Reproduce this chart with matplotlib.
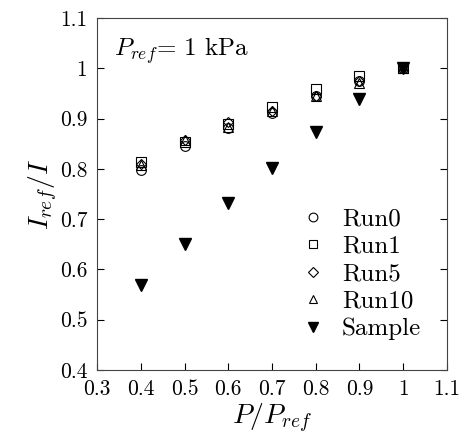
import matplotlib
matplotlib.use("Agg")
import matplotlib.pyplot as plt

plt.rcParams['font.family'] = 'serif'
plt.rcParams['font.serif'] = ['cmr10', 'DejaVu Serif']
plt.rcParams['mathtext.fontset'] = 'cm'
plt.rcParams['axes.formatter.use_mathtext'] = True

pressure = [0.4, 0.5, 0.6, 0.7, 0.8, 0.9, 1.0]
run0 = [0.797, 0.845, 0.881, 0.911, 0.945, 0.974, 1.0]
run1 = [0.813, 0.854, 0.890, 0.923, 0.959, 0.984, 1.0]
run5 = [0.810, 0.857, 0.893, 0.915, 0.945, 0.975, 1.0]
run10 = [0.808, 0.858, 0.883, 0.916, 0.944, 0.970, 1.0]
sample = [0.569, 0.650, 0.732, 0.801, 0.874, 0.939, 1.0]

xticks = [0.3, 0.4, 0.5, 0.6, 0.7, 0.8, 0.9, 1.0, 1.1]
xtick_labels = ["0.3", "0.4", "0.5", "0.6", "0.7", "0.8", "0.9", "1", "1.1"]
yticks = [0.4, 0.5, 0.6, 0.7, 0.8, 0.9, 1.0, 1.1]
ytick_labels = ["0.4", "0.5", "0.6", "0.7", "0.8", "0.9", "1", "1.1"]

fig = plt.figure(figsize=(4.6, 4.42), dpi=100)
ax = fig.add_axes([97 / 460, 72 / 442, 350 / 460, 352 / 442])

ms = 7
ax.plot(pressure, run0, 'o', mfc='none', mec='black', mew=0.8, ms=ms, label="Run0")
ax.plot(pressure, run1, 's', mfc='none', mec='black', mew=0.8, ms=ms, label="Run1")
ax.plot(pressure, run5, 'D', mfc='none', mec='black', mew=0.8, ms=ms - 1.5, label="Run5")
ax.plot(pressure, run10, '^', mfc='none', mec='black', mew=0.8, ms=ms, label="Run10")
ax.plot(pressure, sample, 'v', color='black', ms=ms + 1, label="Sample")

ax.set_xlim(0.3, 1.1)
ax.set_ylim(0.4, 1.1)
ax.set_xticks(xticks)
ax.set_xticklabels(xtick_labels)
ax.set_yticks(yticks)
ax.set_yticklabels(ytick_labels)
ax.tick_params(direction='in', length=5, labelsize=15.5, right=True, top=False, pad=7)
for s in ax.spines.values():
    s.set_color('#444444')

ax.set_xlabel(r"$P/P_{ref}$", fontsize=20, labelpad=2)
ax.set_ylabel(r"$I_{ref}/I$", fontsize=20, labelpad=0)
ax.text(0.05, 0.95, r"$P_{ref}$= 1 kPa", transform=ax.transAxes, fontsize=18,
        va='top', ha='left')

ax.legend(loc='lower right', bbox_to_anchor=(0.955, 0.056), frameon=False, fontsize=18,
          handletextpad=0.75, labelspacing=0.2, handlelength=0.8, borderaxespad=0,
          markerscale=0.9)

plt.savefig("out.png", dpi=100)
